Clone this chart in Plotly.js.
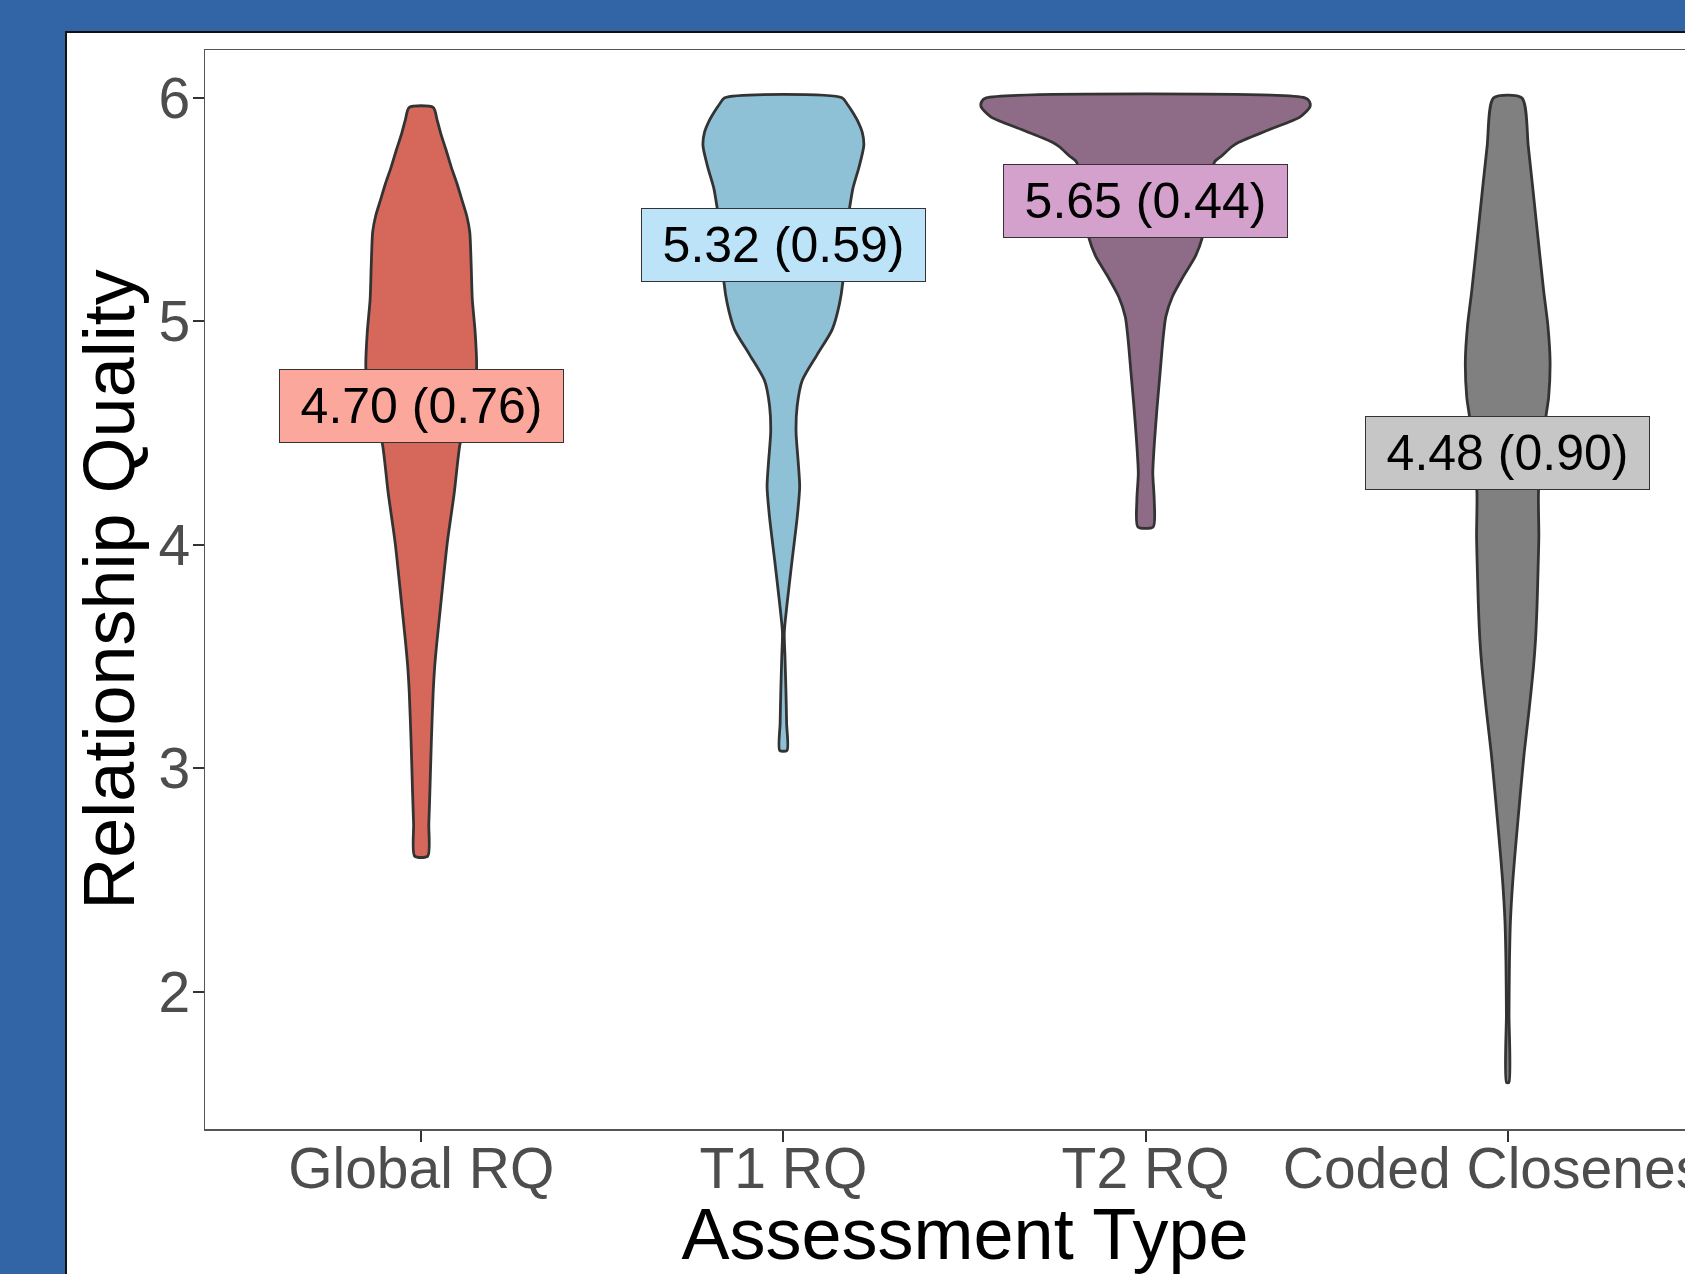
<!DOCTYPE html>
<html><head><meta charset="utf-8">
<script src="https://cdn.plot.ly/plotly-3.0.1.min.js"></script>
<style>
html,body{margin:0;padding:0;width:1685px;height:1274px;overflow:hidden;background:#3165A6;}
#panel{position:absolute;left:65px;top:31px;width:1700px;height:1300px;background:#fff;border-left:2px solid #111;border-top:2px solid #111;}
#chart{position:absolute;left:0;top:0;width:1760px;height:1274px;}
</style></head><body>
<div id="panel"></div><div id="chart"></div>
<script>
// Categories and summary labels
const categories = ['Global RQ', 'T1 RQ', 'T2 RQ', 'Coded Closeness'];
const means = [4.70, 5.32, 5.65, 4.48];
const sds = [0.76, 0.59, 0.44, 0.90];
const labelY = [4.62, 5.34, 5.54, 4.41];

// Violin density profiles (y level, half-width in category units)
const globalY = [2.607, 2.75, 2.90, 3.12, 3.34, 3.45, 3.56, 3.75, 4.01, 4.23, 4.45, 4.52, 4.60, 4.68, 4.80, 4.95, 5.10, 5.25, 5.40, 5.47, 5.54, 5.62, 5.69, 5.77, 5.84, 5.90, 5.957];
const globalW = [0.018, 0.021, 0.024, 0.028, 0.033, 0.037, 0.043, 0.055, 0.072, 0.091, 0.107, 0.119, 0.135, 0.148, 0.153, 0.149, 0.141, 0.138, 0.134, 0.126, 0.113, 0.098, 0.083, 0.068, 0.054, 0.044, 0.033];

const t1Y = [3.08, 3.20, 3.35, 3.50, 3.607, 3.74, 3.93, 4.12, 4.26, 4.37, 4.505, 4.62, 4.735, 4.85, 4.964, 5.079, 5.174, 5.26, 5.34, 5.42, 5.509, 5.595, 5.691, 5.786, 5.844, 5.90, 5.939, 5.97, 6.0];
const t1W = [0.010, 0.009, 0.007, 0.0044, 0.0025, 0.0105, 0.024, 0.038, 0.045, 0.041, 0.035, 0.038, 0.052, 0.093, 0.135, 0.155, 0.164, 0.167, 0.170, 0.175, 0.183, 0.192, 0.209, 0.222, 0.218, 0.204, 0.190, 0.177, 0.162];

const t2Y = [4.08, 4.20, 4.32, 4.469, 4.618, 4.767, 4.916, 5.021, 5.11, 5.20, 5.289, 5.371, 5.45, 5.55, 5.65, 5.714, 5.74, 5.78, 5.80, 5.856, 5.915, 5.96, 5.985, 6.0];
const t2W = [0.021, 0.024, 0.020, 0.025, 0.032, 0.040, 0.048, 0.056, 0.074, 0.104, 0.137, 0.156, 0.164, 0.170, 0.180, 0.191, 0.210, 0.237, 0.256, 0.339, 0.427, 0.454, 0.452, 0.440];

const codedY = [1.594, 1.90, 2.13, 2.317, 2.506, 2.69, 2.88, 3.07, 3.26, 3.45, 3.58, 3.73, 3.90, 4.04, 4.237, 4.40, 4.58, 4.66, 4.82, 4.98, 5.14, 5.46, 5.78, 6.0];
const codedW = [0.0033, 0.0036, 0.0048, 0.0076, 0.0145, 0.024, 0.0345, 0.0456, 0.059, 0.071, 0.077, 0.081, 0.084, 0.086, 0.085, 0.094, 0.106, 0.113, 0.117, 0.111, 0.099, 0.078, 0.057, 0.039];

const profiles = [[globalY, globalW], [t1Y, t1W], [t2Y, t2W], [codedY, codedW]];
const violinFill = ['#D5685B', '#8EC0D6', '#8E6C87', '#808080'];
const labelFill = ['#FCA79C', '#BDE3F9', '#D4A0CC', '#C6C6C6'];

const traces = profiles.map(([ys, ws], i) => {
  const xs = [], yy = [];
  for (let k = 0; k < ys.length; k++) { xs.push(i + ws[k]); yy.push(ys[k]); }
  for (let k = ys.length - 1; k >= 0; k--) { xs.push(i - ws[k]); yy.push(ys[k]); }
  xs.push(xs[0]); yy.push(yy[0]);
  return {
    type: 'scatter', mode: 'lines', x: xs, y: yy,
    fill: 'toself', fillcolor: violinFill[i],
    line: {color: '#333333', width: 2.8, shape: 'spline', smoothing: 0.7},
    hoverinfo: 'skip', showlegend: false
  };
});

const annotations = categories.map((c, i) => ({
  x: i, y: labelY[i], xref: 'x', yref: 'y',
  text: means[i].toFixed(2) + ' (' + sds[i].toFixed(2) + ')',
  showarrow: false, bgcolor: labelFill[i], bordercolor: '#333333', borderwidth: 1, borderpad: 0,
  width: 283, height: 72, xanchor: 'center', yanchor: 'middle', align: 'center', valign: 'middle',
  font: {family: '"Liberation Sans Narrow", "Arial Narrow", "Liberation Sans", Arial, sans-serif', size: 50, color: '#000000'}
}));

const tickFont = {family: '"Liberation Sans", Arial, sans-serif', size: 57, color: '#4D4D4D'};
const titleFont = {family: '"Liberation Sans", Arial, sans-serif', size: 72, color: '#000000'};

const layout = {
  width: 1760, height: 1274,
  margin: {l: 205, r: 35, t: 50, b: 145, pad: 0},
  paper_bgcolor: 'rgba(0,0,0,0)', plot_bgcolor: '#FFFFFF',
  xaxis: {
    range: [-0.597, 3.6], tickvals: [0, 1, 2, 3], ticktext: categories,
    showgrid: false, zeroline: false, showline: true, mirror: true,
    linecolor: '#555555', linewidth: 1.5,
    ticks: 'outside', ticklen: 11, tickwidth: 2, tickcolor: '#333333',
    tickfont: tickFont, ticklabelstandoff: -22,
    title: {text: 'Assessment Type', font: titleFont, standoff: 30}
  },
  yaxis: {
    range: [1.386, 6.214], tickvals: [2, 3, 4, 5, 6],
    showgrid: false, zeroline: false, showline: true, mirror: true,
    linecolor: '#555555', linewidth: 1.5,
    ticks: 'outside', ticklen: 11, tickwidth: 2, tickcolor: '#333333',
    tickfont: tickFont, ticklabelstandoff: -9,
    title: {text: 'Relationship Quality', font: titleFont, standoff: 0}
  },
  annotations: annotations
};

Plotly.newPlot('chart', traces, layout, {displayModeBar: false, staticPlot: true});
</script>
</body></html>
